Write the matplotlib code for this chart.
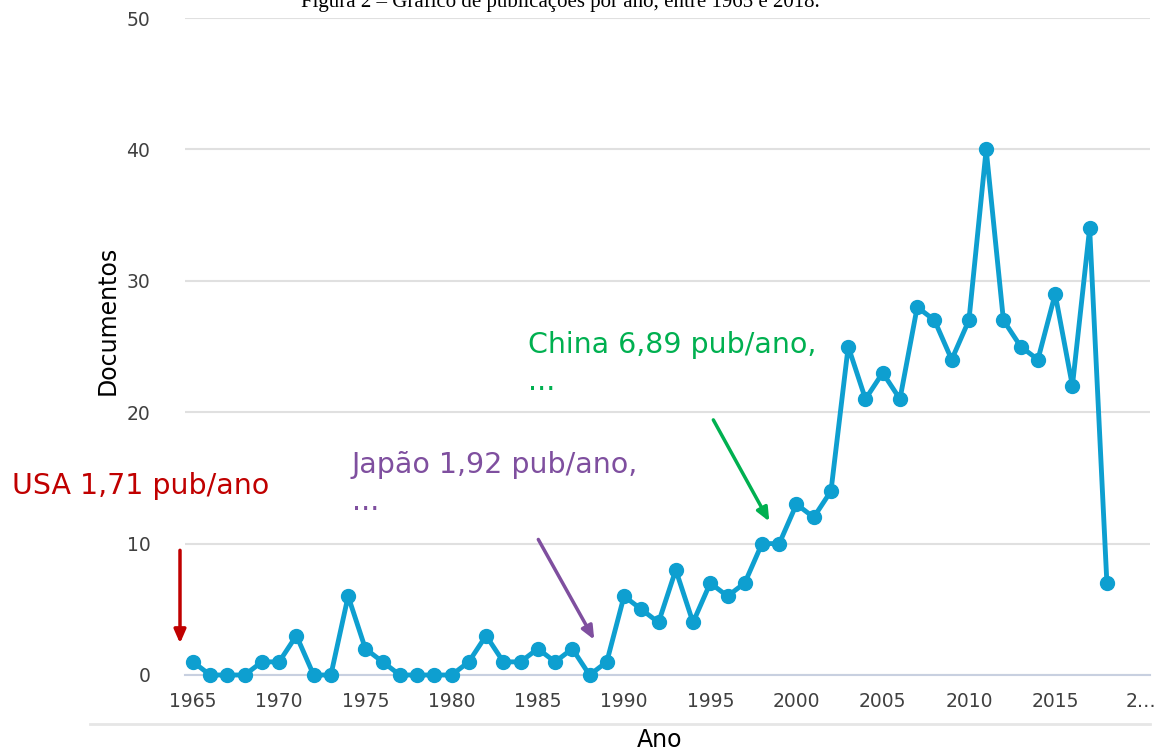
import numpy as np
import matplotlib.pyplot as plt
from matplotlib.lines import Line2D

# publications per year
anos = list(range(1965, 2019))
documentos = [1, 0, 0, 0, 1, 1, 3, 0, 0, 6,
              2, 1, 0, 0, 0, 0, 1, 3, 1, 1,
              2, 1, 2, 0, 1, 6, 5, 4, 8, 4,
              7, 6, 7, 10, 10, 13, 12, 14, 25, 21,
              23, 21, 28, 27, 24, 27, 40, 27, 25, 24,
              29, 22, 34, 7]

xticks = [1965, 1970, 1975, 1980, 1985, 1990, 1995, 2000, 2005, 2010, 2015, 2020]
xtick_labels = ["1965", "1970", "1975", "1980", "1985", "1990", "1995",
                "2000", "2005", "2010", "2015", "2\u2026"]
yticks = [0, 10, 20, 30, 40, 50]

W, H = 1156, 753
fig = plt.figure(figsize=(W / 100, H / 100), dpi=100)
# axes box in pixels: left 185, right 1150, bottom(0) 675, top(50) 18
ax = fig.add_axes([185 / W, 1 - 675 / H, (1150 - 185) / W, (675 - 18) / H])

ax.plot(anos, documentos, color="#0e9fd0", linewidth=3.5, marker="o",
        markersize=10, clip_on=False, zorder=3)

ax.set_xlim(1964.54, 2020.5)
ax.set_ylim(0, 50)
ax.set_xticks(xticks)
ax.set_xticklabels(xtick_labels)
ax.set_yticks(yticks)
ax.tick_params(length=0, labelsize=13.5, labelcolor="#404040", pad=12)
ax.tick_params(axis="y", pad=25)

ax.grid(axis="y", color="#e0e0e0", linewidth=1.5)
ax.set_axisbelow(True)
for s in ["top", "right", "left"]:
    ax.spines[s].set_visible(False)
ax.spines["bottom"].set_color("#c8d0e0")
ax.spines["bottom"].set_linewidth(1.5)

fig.text(108 / W, 1 - 320 / H, "Documentos", rotation=90, ha="center", va="center",
         fontsize=17, color="black")
fig.text(660 / W, 1 - 740 / H, "Ano", ha="center", va="center", fontsize=17,
         color="black")

# light line under the tick labels
fig.add_artist(Line2D([90 / W, 1150 / W], [1 - 724 / H, 1 - 724 / H],
                      color="#e6e6e6", linewidth=2))

# caption at the very top (cut off in the original too)
fig.text(560 / W, 1 - 2 / H, "Figura 2 \u2013 Gr\u00e1fico de publica\u00e7\u00f5es por ano, entre 1965 e 2018.",
         ha="center", va="center", fontsize=15, family="Liberation Serif", color="black")

# country annotations
fs = 20.5
arrow = "-|>,head_length=0.8,head_width=0.35"
ax.annotate("", xy=(1964.25, 2.2), xytext=(1964.25, 9.7),
            arrowprops=dict(arrowstyle=arrow, color="#c00000", lw=2.5),
            annotation_clip=False)
fig.text(12 / W, 1 - 486 / H, "USA 1,71 pub/ano", color="#c00000", fontsize=fs,
         ha="left", va="center")

ax.annotate("", xy=(1988.35, 2.5), xytext=(1984.95, 10.5),
            arrowprops=dict(arrowstyle=arrow, color="#7f4f9f", lw=2.5))
fig.text(352 / W, 1 - 465 / H, "Jap\u00e3o 1,92 pub/ano,", color="#7f4f9f", fontsize=fs,
         ha="left", va="center")
fig.text(352 / W, 1 - 502 / H, "...", color="#7f4f9f", fontsize=fs,
         ha="left", va="center")

ax.annotate("", xy=(1998.5, 11.5), xytext=(1995.1, 19.6),
            arrowprops=dict(arrowstyle=arrow, color="#00b050", lw=2.5))
fig.text(528 / W, 1 - 345 / H, "China 6,89 pub/ano,", color="#00b050", fontsize=fs,
         ha="left", va="center")
fig.text(528 / W, 1 - 382 / H, "...", color="#00b050", fontsize=fs,
         ha="left", va="center")

fig.savefig("out.png", dpi=100)
